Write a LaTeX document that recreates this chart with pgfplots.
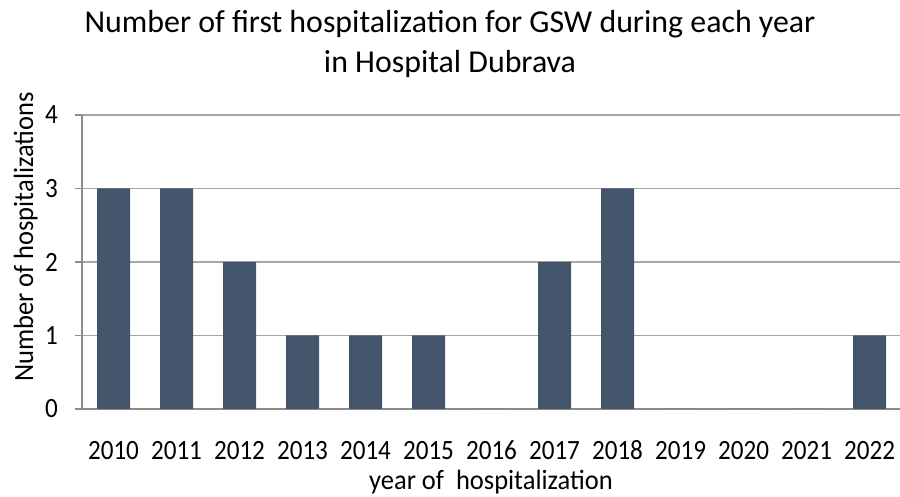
\documentclass[border=0pt]{standalone}
\usepackage{pgfplots}
\pgfplotsset{compat=1.18}
\usepackage{fontspec}
\setmainfont{Carlito}
\newfontfamily\tickfont[FakeStretch=0.9]{Carlito}
\newfontfamily\labfont[FakeStretch=0.95]{Carlito}
\definecolor{barc}{HTML}{44546A}
\definecolor{gridc}{HTML}{A6A6A6}
\definecolor{axc}{HTML}{8C8C8C}
\begin{document}
\begin{tikzpicture}[x=1bp,y=1bp]
\useasboundingbox (0,0) rectangle (900,497);
\begin{axis}[
  at={(82bp,88bp)}, anchor=south west,
  scale only axis, width=819bp, height=294bp,
  xmin=-0.5, xmax=12.5, ymin=0, ymax=4,
  ytick={0,1,2,3,4},
  xtick={0,1,2,3,4,5,6,7,8,9,10,11,12},
  xticklabels={2010,2011,2012,2013,2014,2015,2016,2017,2018,2019,2020,2021,2022},
  /pgf/number format/assume math mode=true,
  axis x line*=bottom, axis y line*=left,
  axis line style={axc, line width=1.2bp},
  ymajorgrids, grid style={gridc, line width=1.2bp},
  tick align=outside, major tick length=7bp,
  y tick style={axc, line width=1.2bp},
  x tick style={draw=none},
  ticklabel style={font=\tickfont\fontsize{28}{28}\selectfont, inner sep=0pt},
  xticklabel style={anchor=base, yshift=-44bp},
  yticklabel style={anchor=east, xshift=-17bp},
  ybar, bar width=33bp,
  clip=false,
]
\addplot[fill=barc, draw=none] coordinates {
(0,3) (1,3) (2,2) (3,1) (4,1) (5,1) (6,0) (7,2) (8,3) (9,0) (10,0) (11,0) (12,1)};
\end{axis}
\node[anchor=base, font=\fontsize{32}{32}\selectfont] at (450,464) {Number of first hospitalization for GSW during each year};
\node[anchor=base, font=\fontsize{32}{32}\selectfont] at (450,424) {in Hospital Dubrava};
\node[anchor=base, font=\labfont\fontsize{28}{28}\selectfont] at (491,7.5) {year of\ \ hospitalization};
\node[anchor=base, rotate=90, font=\labfont\fontsize{28}{28}\selectfont] at (33,260) {Number of hospitalizations};
\end{tikzpicture}
\end{document}
